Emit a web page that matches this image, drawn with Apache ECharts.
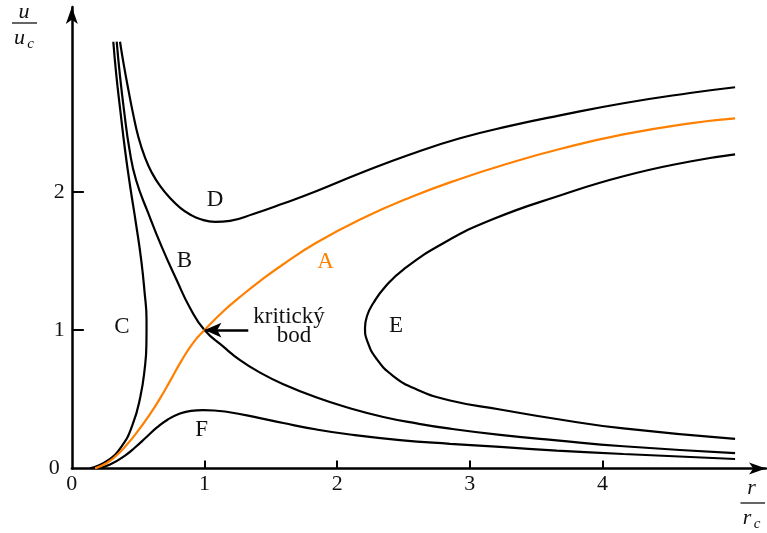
<!DOCTYPE html>
<html>
<head>
<meta charset="utf-8">
<script src="https://cdn.jsdelivr.net/npm/echarts@6/dist/echarts.min.js"></script>
<style>
  html, body { margin: 0; padding: 0; background: #fff; }
  #chart { width: 767px; height: 533px; }
</style>
</head>
<body>
<div id="chart"></div>
<script>
// Solution families of the isothermal wind equation: r/rc on x, u/uc on y.
const curveA = [[0.175,0],[0.263,0.039],[0.338,0.095],[0.408,0.164],[0.476,0.242],[0.589,0.392],[0.665,0.506],[0.740,0.631],[0.827,0.779],[0.913,0.906],[1,1],[1.142,1.136],[1.268,1.240],[1.418,1.354],[1.594,1.476],[1.846,1.633],[2.173,1.800],[2.549,1.959],[2.926,2.093],[3.303,2.208],[3.680,2.309],[4.158,2.415],[4.660,2.495],[5,2.531]];
const curveB = [[0.338,3.085],[0.362,2.845],[0.393,2.591],[0.435,2.302],[0.484,2.085],[0.576,1.845],[0.677,1.603],[0.790,1.362],[0.891,1.160],[1,1],[1.142,0.880],[1.268,0.783],[1.418,0.693],[1.594,0.609],[1.846,0.512],[2.097,0.435],[2.348,0.372],[2.600,0.325],[2.851,0.287],[3.228,0.242],[3.655,0.202],[4.158,0.160],[5,0.110]];
const curveC = [[0.3125,3.085],[0.335,2.845],[0.365,2.591],[0.401,2.302],[0.438,2.049],[0.485,1.760],[0.523,1.506],[0.548,1.276],[0.563,1.073],[0.562,0.892],[0.551,0.735],[0.516,0.516],[0.457,0.314],[0.374,0.158],[0.265,0.054],[0.137,0]];
const curveD = [[0.363,3.085],[0.393,2.910],[0.427,2.733],[0.461,2.567],[0.502,2.394],[0.551,2.249],[0.602,2.140],[0.665,2.042],[0.740,1.955],[0.815,1.886],[0.891,1.836],[0.966,1.803],[1.079,1.783],[1.192,1.790],[1.368,1.839],[1.594,1.915],[1.846,2.006],[2.173,2.134],[2.549,2.270],[2.926,2.387],[3.303,2.476],[3.680,2.552],[4.158,2.640],[4.660,2.714],[5,2.756]];
const curveE = [[5,2.271],[4.660,2.219],[4.158,2.112],[3.680,1.973],[3.177,1.803],[2.800,1.628],[2.499,1.438],[2.361,1.312],[2.273,1.196],[2.225,1.102],[2.210,1.015],[2.227,0.921],[2.298,0.791],[2.423,0.668],[2.600,0.571],[2.851,0.491],[3.228,0.426],[3.655,0.357],[4.158,0.289],[5,0.213]];
const curveF = [[0.197,0],[0.288,0.028],[0.401,0.093],[0.476,0.151],[0.563,0.227],[0.642,0.296],[0.724,0.354],[0.815,0.397],[0.898,0.416],[0.989,0.422],[1.177,0.408],[1.418,0.364],[1.594,0.328],[1.846,0.281],[2.097,0.245],[2.474,0.205],[2.851,0.178],[3.228,0.155],[3.655,0.129],[4.158,0.104],[5,0.068]];

// Axis ticks
const xTickLabels = [0, 1, 2, 3, 4];
const xTickMarks = [1, 2, 3, 4];
const yTickLabels = [0, 1, 2];
const yTickMarks = [1, 2];

// Curve letters and the critical-point note, anchored in data space
const curveLetters = [
  { text: 'B', at: [0.849, 1.497] },
  { text: 'C', at: [0.378, 1.023] },
  { text: 'D', at: [1.079, 1.941] },
  { text: 'E', at: [2.444, 1.030] },
  { text: 'F', at: [0.979, 0.281] }
];
const accentLetters = [{ text: 'A', at: [1.912, 1.495] }];
const noteLines = [
  { text: 'kritický', at: [1.637, 1.095] },
  { text: 'bod', at: [1.675, 0.957] }
];
const criticalPoint = [1, 1];
const arrowStart = [1.33, 1];

const SERIF = '"Liberation Serif", "DejaVu Serif", serif';
const INK = '#111';
const ORANGE = '#ff8000';

const chart = echarts.init(document.getElementById('chart'), null, { renderer: 'canvas' });

function curve(name, data, color) {
  return {
    name: name,
    type: 'line',
    data: data,
    smooth: 0.5,
    showSymbol: false,
    symbol: 'none',
    silent: true,
    lineStyle: { color: color, width: 2.2 },
    z: color === ORANGE ? 3 : 2
  };
}

const curveB_series = curve('B', curveB, '#000');
curveB_series.markLine = {
  silent: true,
  animation: false,
  symbol: ['none', 'arrow'],
  symbolSize: [11, 17],
  label: { show: false },
  lineStyle: { color: '#000', width: 2.5, type: 'solid' },
  data: [[{ coord: arrowStart }, { coord: criticalPoint }]]
};

chart.setOption({
  animation: false,
  backgroundColor: '#fff',
  grid: { left: 71.85, right: 1, top: 7, bottom: 64.6, containLabel: false },
  xAxis: {
    type: 'value',
    min: 0,
    max: 5.233,
    splitLine: { show: false },
    axisLine: {
      show: true,
      onZero: false,
      symbol: ['none', 'arrow'],
      symbolSize: [9, 17],
      lineStyle: { color: '#000', width: 2.5 }
    },
    axisTick: {
      show: true,
      inside: true,
      length: 8,
      customValues: xTickMarks,
      lineStyle: { color: '#000', width: 2 }
    },
    axisLabel: {
      show: true,
      customValues: xTickLabels,
      margin: 5,
      fontFamily: SERIF,
      fontSize: 22,
      color: INK
    }
  },
  yAxis: {
    type: 'value',
    min: 0,
    max: 3.336,
    splitLine: { show: false },
    axisLine: {
      show: true,
      onZero: false,
      symbol: ['none', 'arrow'],
      symbolSize: [9, 17],
      lineStyle: { color: '#000', width: 2.5 }
    },
    axisTick: {
      show: true,
      inside: true,
      length: 12,
      customValues: yTickMarks,
      lineStyle: { color: '#000', width: 2 }
    },
    axisLabel: {
      show: true,
      customValues: yTickLabels,
      margin: 7,
      fontFamily: SERIF,
      fontSize: 22,
      color: INK,
      formatter: v => (v === 0 ? '{z|0}' : String(v)),
      rich: { z: { fontFamily: SERIF, fontSize: 22, color: INK, padding: [0, 5, 0, 0] } }
    }
  },
  series: [
    curve('C', curveC, '#000'),
    curveB_series,
    curve('D', curveD, '#000'),
    curve('E', curveE, '#000'),
    curve('F', curveF, '#000'),
    curve('A', curveA, ORANGE)
  ]
});

// Text annotations placed through the grid's coordinate system
function textAt(item, color) {
  const p = chart.convertToPixel({ gridIndex: 0 }, item.at);
  return {
    type: 'text',
    x: p[0],
    y: p[1],
    silent: true,
    z: 10,
    style: {
      text: item.text,
      font: '23px ' + SERIF,
      fill: color,
      textAlign: 'center',
      textVerticalAlign: 'middle'
    }
  };
}

function italic(text, x, y, size) {
  return {
    type: 'text', x: x, y: y, silent: true, z: 10,
    style: { text: text, font: 'italic ' + size + 'px ' + SERIF, fill: INK, textAlign: 'center', textVerticalAlign: 'middle' }
  };
}

const annotations = []
  .concat(curveLetters.map(d => textAt(d, INK)))
  .concat(accentLetters.map(d => textAt(d, ORANGE)))
  .concat(noteLines.map(d => textAt(d, INK)))
  .concat([
    // u / u_c
    italic('u', 24, 12, 22),
    { type: 'line', silent: true, shape: { x1: 12, y1: 23, x2: 37, y2: 23 }, style: { stroke: INK, lineWidth: 1.3 } },
    italic('u', 19.5, 38, 22),
    italic('c', 30.5, 44, 15),
    // r / r_c
    italic('r', 751.5, 488, 22),
    { type: 'line', silent: true, shape: { x1: 740.5, y1: 503, x2: 765, y2: 503 }, style: { stroke: INK, lineWidth: 1.3 } },
    italic('r', 747, 518, 22),
    italic('c', 757, 524, 15)
  ]);

chart.setOption({ graphic: annotations });
</script>
</body>
</html>
